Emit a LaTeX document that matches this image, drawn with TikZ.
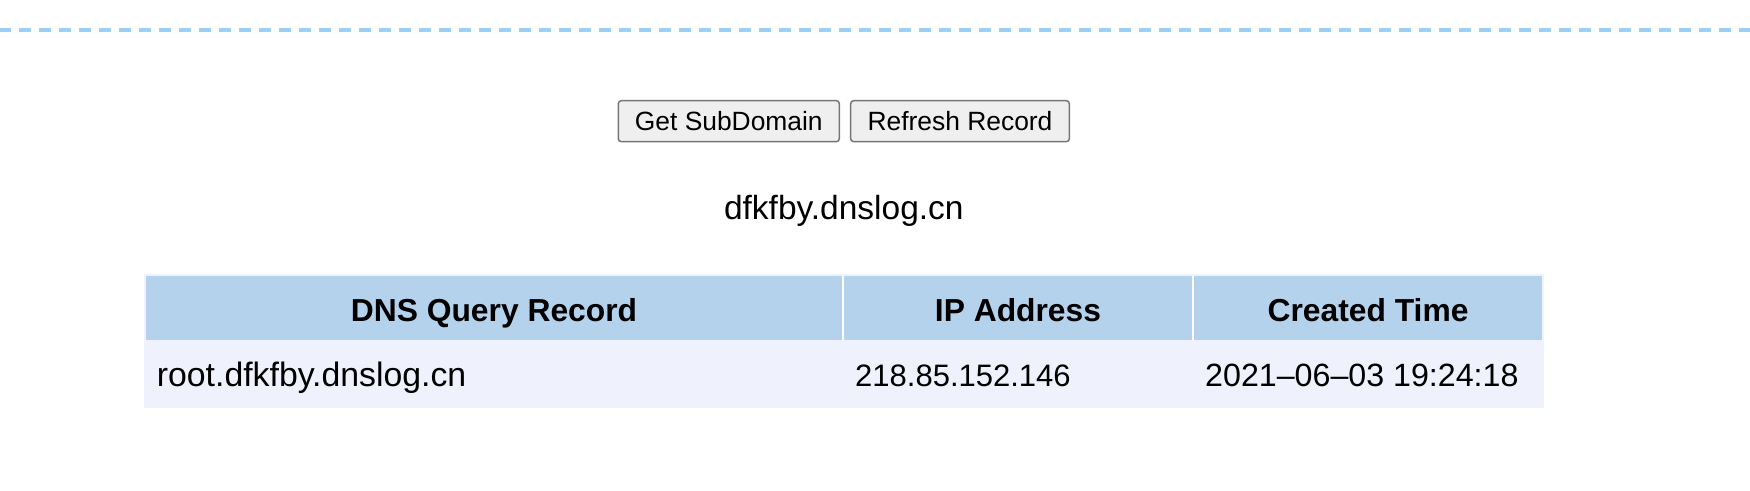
\documentclass[tikz,border=0pt]{standalone}
\usepackage{fontspec}
\setmainfont{Liberation Sans}
\definecolor{dashblue}{HTML}{9CCFF6}
\definecolor{btnborder}{HTML}{767676}
\definecolor{btnfill}{HTML}{EFEFEF}
\definecolor{headbg}{HTML}{B5D2EC}
\definecolor{rowbg}{HTML}{EFF2FC}
\begin{document}
\begin{tikzpicture}[x=1pt,y=-1pt,
  btn/.style={draw=btnborder, fill=btnfill, line width=1.5pt, rounded corners=3pt,
    minimum height=41pt, inner sep=0pt, font=\fontsize{26.4}{30}\selectfont},
  headtxt/.style={anchor=base, inner sep=0pt, font=\fontsize{31.8}{36}\selectfont\bfseries},
  celltxt/.style={anchor=base west, inner sep=0pt}]
\useasboundingbox (0,0) rectangle (1750,490);
\fill[white] (0,0) rectangle (1750,490);
% dashed separator
\coordinate (dl) at (-0.7,30);
\coordinate (dr) at (1752,30);
\draw[dashblue, line width=3.5pt, dash pattern=on 11.7pt off 8.3pt] (dl) -- (dr);
% buttons
\node[btn, minimum width=221pt] (getsub) at (728.8,121.2) {Get SubDomain};
\node[btn, minimum width=218.6pt] (refresh) at (960,121.2) {Refresh Record};
% subdomain
\node[anchor=base, inner sep=0pt, font=\fontsize{33.5}{36}\selectfont] (domain) at (843.8,219.3) {dfkfby.dnslog.cn};
% table
\fill[rowbg] (144,274) rectangle (1544,407.5);
\fill[headbg] (146,276) rectangle (1542,340);
\draw[white, line width=2pt] (843,276) -- (843,340);
\draw[white, line width=2pt] (1193,276) -- (1193,340);
\node[headtxt] (h1) at (494,321) {DNS Query Record};
\node[headtxt] (h2) at (1018,321) {IP Address};
\node[headtxt] (h3) at (1368,321) {Created Time};
\node[celltxt, font=\fontsize{33.8}{36}\selectfont] (c1) at (156.7,386.7) {root.dfkfby.dnslog.cn};
\node[celltxt, font=\fontsize{31}{36}\selectfont] (c2) at (855,386.7) {218.85.152.146};
\node[celltxt, font=\fontsize{32.2}{36}\selectfont] (c3) at (1205,386.7) {2021–06–03 19:24:18};
\end{tikzpicture}
\end{document}
